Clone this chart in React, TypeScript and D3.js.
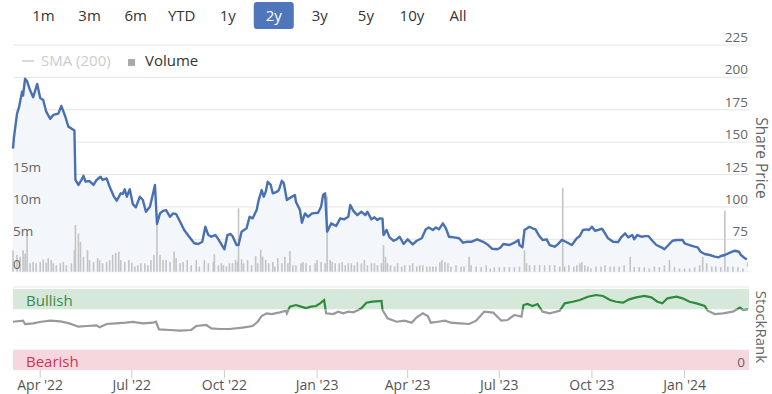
import React from 'react';
import * as d3 from 'd3';

const W = 772;
const H = 394;
const FONT = '"Open Sans", "Noto Sans", sans-serif';

const rangeButtons = ["1m", "3m", "6m", "YTD", "1y", "2y", "3y", "5y", "10y", "All"];
const selectedRange = "2y";
const priceTicks = [50, 75, 100, 125, 150, 175, 200, 225];
const volumeTicks = [0, 5, 10, 15];
const dateDomain = ["2022-03-05", "2024-03-05"];
const bullishRange = [75, 100];
const bearishRange = [0, 25];

const priceData: [string, number][] = [
  ["2022-03-05",145],["2022-03-06",154],["2022-03-09",172],["2022-03-11",177],["2022-03-14",189],["2022-03-15",186],["2022-03-17",199],["2022-03-19",197],["2022-03-22",190],["2022-03-25",184.6],["2022-03-29",195],["2022-04-01",184],["2022-04-04",182.5],["2022-04-07",173.5],["2022-04-11",168],["2022-04-14",171],["2022-04-19",172],["2022-04-22",178],["2022-04-26",169.6],["2022-04-29",162],["2022-05-02",160.6],["2022-05-05",159],["2022-05-06",120.8],["2022-05-09",117],["2022-05-12",120.8],["2022-05-14",124],["2022-05-16",119.5],["2022-05-20",120],["2022-05-24",117],["2022-05-27",120.8],["2022-05-31",123.3],["2022-06-02",120.8],["2022-06-06",122],["2022-06-09",115.6],["2022-06-13",108.4],["2022-06-16",104.8],["2022-06-20",110.5],["2022-06-22",110],["2022-06-24",113.6],["2022-06-26",107.9],["2022-06-29",113.6],["2022-07-02",102.2],["2022-07-05",99.7],["2022-07-09",107.9],["2022-07-12",105.3],["2022-07-15",96.3],["2022-07-19",100.2],["2022-07-24",117],["2022-07-26",86.8],["2022-07-29",95],["2022-08-01",97],["2022-08-04",97.6],["2022-08-08",92.4],["2022-08-11",95],["2022-08-14",94.5],["2022-08-18",88.6],["2022-08-22",82.2],["2022-08-27",77],["2022-09-01",72],["2022-09-05",71.4],["2022-09-09",73.1],["2022-09-12",84.7],["2022-09-15",78.3],["2022-09-18",77],["2022-09-22",78.3],["2022-09-25",75],["2022-10-01",67.3],["2022-10-04",78.3],["2022-10-07",79.1],["2022-10-09",77.5],["2022-10-13",70.6],["2022-10-15",70.6],["2022-10-18",80.9],["2022-10-23",83.5],["2022-10-26",92.4],["2022-10-29",91.2],["2022-11-02",97.6],["2022-11-04",105.3],["2022-11-07",113],["2022-11-09",107.9],["2022-11-11",111.7],["2022-11-13",119.4],["2022-11-16",117],["2022-11-18",110.5],["2022-11-22",111.7],["2022-11-24",113],["2022-11-27",120.2],["2022-11-29",118.2],["2022-12-02",105.3],["2022-12-06",107.4],["2022-12-10",109.2],["2022-12-11",104],["2022-12-15",97.6],["2022-12-17",87.8],["2022-12-20",95],["2022-12-23",92.4],["2022-12-27",95],["2023-01-02",95.5],["2023-01-05",100.2],["2023-01-07",109.2],["2023-01-09",110.5],["2023-01-11",80.9],["2023-01-15",87.3],["2023-01-20",85.3],["2023-01-24",91.2],["2023-01-28",90.4],["2023-02-01",92.4],["2023-02-03",101.5],["2023-02-06",97],["2023-02-10",93.7],["2023-02-14",96.3],["2023-02-18",93.7],["2023-02-20",96.3],["2023-02-24",90.4],["2023-02-27",92],["2023-03-02",89.9],["2023-03-04",91.2],["2023-03-07",91],["2023-03-08",78.3],["2023-03-11",82.2],["2023-03-14",76.5],["2023-03-18",73.9],["2023-03-21",75],["2023-03-24",77],["2023-03-28",71.4],["2023-04-01",75],["2023-04-06",71.1],["2023-04-10",73.9],["2023-04-15",75.8],["2023-04-19",82.7],["2023-04-22",84.2],["2023-04-26",82.2],["2023-04-29",84.2],["2023-05-02",82.7],["2023-05-06",87.3],["2023-05-09",83.5],["2023-05-12",77],["2023-05-17",76.5],["2023-05-22",75.8],["2023-05-26",72.4],["2023-05-30",73.1],["2023-06-03",73.1],["2023-06-09",75],["2023-06-15",73.1],["2023-06-20",70.6],["2023-06-24",67.7],["2023-06-29",67.3],["2023-07-02",68.5],["2023-07-05",71.4],["2023-07-11",70.6],["2023-07-16",72.4],["2023-07-20",74.5],["2023-07-21",70.6],["2023-07-24",68.8],["2023-07-26",82.2],["2023-07-31",84.7],["2023-08-03",83.5],["2023-08-06",82.7],["2023-08-09",78.3],["2023-08-13",74.5],["2023-08-17",75],["2023-08-20",70.6],["2023-08-25",69.3],["2023-08-28",71.1],["2023-09-01",74.5],["2023-09-05",73.1],["2023-09-11",70.6],["2023-09-16",75.8],["2023-09-19",77.5],["2023-09-22",82.2],["2023-09-26",82.7],["2023-09-28",82.2],["2023-10-01",84.7],["2023-10-04",81.6],["2023-10-07",82.2],["2023-10-11",83.2],["2023-10-14",79.6],["2023-10-17",75.8],["2023-10-22",73.1],["2023-10-27",72.9],["2023-10-30",76.5],["2023-11-03",79.6],["2023-11-06",76.5],["2023-11-10",78.3],["2023-11-12",75],["2023-11-15",78.3],["2023-11-19",77],["2023-11-23",77.5],["2023-11-26",77.5],["2023-11-30",73.9],["2023-12-04",70.6],["2023-12-09",68.8],["2023-12-12",67.3],["2023-12-16",70.6],["2023-12-20",73.9],["2023-12-24",74.5],["2023-12-30",74.5],["2024-01-01",71.9],["2024-01-06",70.6],["2024-01-11",69.3],["2024-01-14",68.8],["2024-01-17",65.4],["2024-01-21",63.7],["2024-01-26",62.9],["2024-01-31",61.6],["2024-02-04",61.1],["2024-02-06",62.1],["2024-02-10",62.9],["2024-02-15",64.7],["2024-02-20",66.2],["2024-02-24",65.4],["2024-02-26",62.9],["2024-03-01",60.3],["2024-03-03",59.6]
];

// volume in millions
const volumeData: [string, number][] = [
  ["2022-03-05",3.3],["2022-03-09",2.6],["2022-03-12",2.3],["2022-03-15",3.3],["2022-03-17",2.8],["2022-03-19",5.9],["2022-03-22",1.3],["2022-03-25",1.5],["2022-03-28",1.3],["2022-04-01",1.5],["2022-04-04",1.9],["2022-04-07",1.4],["2022-04-09",2.1],["2022-04-12",1.8],["2022-04-14",1.3],["2022-04-17",1.0],["2022-04-21",1.3],["2022-04-24",1.5],["2022-04-27",1.0],["2022-05-02",1.3],["2022-05-05",3.3],["2022-05-06",7.2],["2022-05-09",5.9],["2022-05-11",4.6],["2022-05-14",2.3],["2022-05-18",3.3],["2022-05-20",1.8],["2022-05-24",1.5],["2022-05-28",2.1],["2022-05-30",1.8],["2022-06-02",1.3],["2022-06-06",1.5],["2022-06-09",1.8],["2022-06-12",2.6],["2022-06-15",2.9],["2022-06-18",3.1],["2022-06-20",1.8],["2022-06-24",1.5],["2022-06-28",1.8],["2022-07-01",1.4],["2022-07-04",0.8],["2022-07-07",1.0],["2022-07-10",1.3],["2022-07-14",1.3],["2022-07-17",1.0],["2022-07-20",1.8],["2022-07-23",2.6],["2022-07-26",9.0],["2022-07-29",2.6],["2022-08-01",1.8],["2022-08-04",1.8],["2022-08-08",1.5],["2022-08-12",3.1],["2022-08-14",2.1],["2022-08-18",1.3],["2022-08-21",1.5],["2022-08-25",1.8],["2022-08-29",1.0],["2022-09-03",1.8],["2022-09-06",0.8],["2022-09-11",1.8],["2022-09-15",1.3],["2022-09-20",1.5],["2022-09-21",2.7],["2022-09-25",1.0],["2022-09-28",1.3],["2022-09-30",1.0],["2022-10-03",0.8],["2022-10-06",1.3],["2022-10-09",1.3],["2022-10-12",1.8],["2022-10-14",1.5],["2022-10-15",9.8],["2022-10-18",1.9],["2022-10-20",1.3],["2022-10-24",1.8],["2022-10-28",1.0],["2022-11-01",2.4],["2022-11-03",1.3],["2022-11-06",3.4],["2022-11-08",2.3],["2022-11-11",1.8],["2022-11-14",1.3],["2022-11-18",1.5],["2022-11-20",0.8],["2022-11-23",2.1],["2022-11-27",1.3],["2022-11-30",2.3],["2022-12-03",1.3],["2022-12-05",3.2],["2022-12-08",1.0],["2022-12-11",1.0],["2022-12-16",1.3],["2022-12-18",1.5],["2022-12-21",1.3],["2022-12-25",1.0],["2022-12-30",1.3],["2023-01-01",1.8],["2023-01-05",1.5],["2023-01-09",1.3],["2023-01-11",11.6],["2023-01-14",1.8],["2023-01-16",1.5],["2023-01-19",1.3],["2023-01-23",1.3],["2023-01-26",1.5],["2023-01-29",1.0],["2023-02-01",1.3],["2023-02-04",1.3],["2023-02-07",1.0],["2023-02-10",1.5],["2023-02-14",1.3],["2023-02-17",1.8],["2023-02-20",1.0],["2023-02-24",1.3],["2023-02-27",1.3],["2023-03-02",1.0],["2023-03-06",1.3],["2023-03-08",4.1],["2023-03-10",2.3],["2023-03-12",1.3],["2023-03-15",1.0],["2023-03-19",0.8],["2023-03-22",1.3],["2023-03-26",0.8],["2023-03-29",1.0],["2023-04-03",1.0],["2023-04-06",1.3],["2023-04-10",0.8],["2023-04-13",1.0],["2023-04-16",1.0],["2023-04-20",0.8],["2023-04-23",0.8],["2023-04-26",0.8],["2023-04-29",0.8],["2023-05-03",1.5],["2023-05-05",1.8],["2023-05-08",1.5],["2023-05-11",1.3],["2023-05-14",0.8],["2023-05-19",1.0],["2023-05-24",0.8],["2023-05-27",0.8],["2023-06-01",2.3],["2023-06-03",1.0],["2023-06-08",0.8],["2023-06-13",0.7],["2023-06-18",1.0],["2023-06-22",0.5],["2023-06-26",0.7],["2023-07-01",0.7],["2023-07-06",0.7],["2023-07-11",0.7],["2023-07-16",0.7],["2023-07-21",0.8],["2023-07-26",3.3],["2023-07-28",1.3],["2023-07-31",1.0],["2023-08-05",1.0],["2023-08-10",1.0],["2023-08-15",1.0],["2023-08-20",1.0],["2023-08-25",1.0],["2023-08-30",0.8],["2023-09-02",12.9],["2023-09-04",0.8],["2023-09-08",1.0],["2023-09-13",0.8],["2023-09-16",1.0],["2023-09-19",1.3],["2023-09-21",1.5],["2023-09-24",1.0],["2023-09-27",0.8],["2023-09-30",0.5],["2023-10-05",0.8],["2023-10-10",0.8],["2023-10-14",1.0],["2023-10-19",0.8],["2023-10-23",0.8],["2023-10-28",0.8],["2023-11-02",1.0],["2023-11-08",2.3],["2023-11-12",0.7],["2023-11-17",0.7],["2023-11-22",0.7],["2023-11-27",0.5],["2023-12-02",0.8],["2023-12-07",0.7],["2023-12-12",1.0],["2023-12-17",1.8],["2023-12-22",0.7],["2023-12-27",0.5],["2024-01-01",0.5],["2024-01-06",0.5],["2024-01-11",0.7],["2024-01-16",1.0],["2024-01-19",2.3],["2024-01-23",1.3],["2024-01-28",0.8],["2024-02-01",0.8],["2024-02-06",0.7],["2024-02-10",9.4],["2024-02-13",0.8],["2024-02-18",0.8],["2024-02-23",0.7],["2024-02-28",0.5]
];

const stockRankData: [string, number][] = [
  ["2022-03-05",59.6],["2022-03-15",60.9],["2022-03-17",56.8],["2022-03-25",57.6],["2022-04-02",59.6],["2022-04-11",60.9],["2022-04-21",60.1],["2022-04-30",57.6],["2022-05-09",53.5],["2022-05-17",54.3],["2022-05-27",55.1],["2022-05-30",52.7],["2022-06-06",56.8],["2022-06-15",57.6],["2022-06-25",58.4],["2022-07-02",59.3],["2022-07-12",57.6],["2022-07-22",58.4],["2022-07-25",59.6],["2022-07-28",50.2],["2022-08-08",49.4],["2022-08-18",48.6],["2022-08-29",49.4],["2022-09-03",54.3],["2022-09-13",55.6],["2022-09-18",51.4],["2022-09-26",50.6],["2022-10-06",50.6],["2022-10-19",52.3],["2022-10-29",54.3],["2022-11-03",59.6],["2022-11-07",66.7],["2022-11-12",70],["2022-11-17",69.1],["2022-11-25",71.2],["2022-12-01",73.2],["2022-12-02",70],["2022-12-05",78.2],["2022-12-11",80.2],["2022-12-16",78.2],["2022-12-21",76.5],["2022-12-26",78.2],["2022-12-31",79],["2023-01-04",82.3],["2023-01-08",86.4],["2023-01-10",70],["2023-01-17",69.1],["2023-01-22",72],["2023-01-27",70],["2023-02-01",72],["2023-02-06",71.2],["2023-02-11",74.1],["2023-02-14",76.2],["2023-02-19",83.1],["2023-02-25",84.3],["2023-03-06",85.2],["2023-03-07",74.1],["2023-03-12",63.8],["2023-03-21",59.6],["2023-03-29",60.9],["2023-04-05",58.4],["2023-04-10",65],["2023-04-16",70],["2023-04-21",66.7],["2023-04-24",58.4],["2023-05-01",59.6],["2023-05-08",60.9],["2023-05-14",58.4],["2023-05-23",57.6],["2023-06-01",56.8],["2023-06-08",60.9],["2023-06-16",72],["2023-06-25",70.8],["2023-07-03",60.9],["2023-07-09",61.7],["2023-07-16",67.9],["2023-07-23",65.8],["2023-07-25",80.2],["2023-07-29",81.5],["2023-08-03",79],["2023-08-08",81.5],["2023-08-13",72],["2023-08-20",70],["2023-08-30",73.2],["2023-09-04",82.3],["2023-09-12",84.3],["2023-09-19",86.4],["2023-09-27",90.5],["2023-10-05",92.6],["2023-10-12",91.4],["2023-10-19",86.4],["2023-10-25",84.3],["2023-11-01",83.1],["2023-11-07",87.2],["2023-11-14",89.7],["2023-11-22",91.4],["2023-11-29",89.7],["2023-12-05",84.3],["2023-12-10",82.3],["2023-12-15",88.5],["2023-12-24",90.5],["2023-12-30",88.5],["2024-01-06",84.3],["2024-01-13",82.3],["2024-01-21",79],["2024-01-24",73.2],["2024-01-31",69.1],["2024-02-08",70],["2024-02-18",72],["2024-02-25",77],["2024-02-28",74.1],["2024-03-04",74.9]
];

const parse = d3.timeParse("%Y-%m-%d");

export default function App() {
  const x = d3.scaleTime().domain(dateDomain.map((d) => parse(d) as Date)).range([13, 749]);
  const yP = d3.scaleLinear().domain([50, 225]).range([271.7, 45]);
  const yV = d3.scaleLinear().domain([0, 35]).range([271.7, 45]);
  const yR = d3.scaleLinear().domain([0, 100]).range([370, 289]);
  const btnX = d3.scalePoint<string>().domain(rangeButtons).range([43.5, 458]);

  const price = priceData.map(([d, v]) => ({ d: parse(d) as Date, v }));
  const vol = volumeData.map(([d, v]) => ({ d: parse(d) as Date, v }));
  const rank = stockRankData.map(([d, v]) => ({ d: parse(d) as Date, v }));

  const line = d3.line<{ d: Date; v: number }>().x((p) => x(p.d)).y((p) => yP(p.v));
  const area = d3.area<{ d: Date; v: number }>().x((p) => x(p.d)).y0(yP(50)).y1((p) => yP(p.v));
  const rankLine = d3.line<{ d: Date; v: number }>().x((p) => x(p.d)).y((p) => yR(p.v));

  const xTicks = x.ticks(d3.timeMonth.every(3) as d3.TimeInterval);
  const fmt = d3.timeFormat("%b '%y");
  const [x0, x1] = x.range();

  return (
    <svg width={W} height={H} style={{ position: 'absolute', left: 0, top: 0, fontFamily: FONT }}>
      <rect width={W} height={H} fill="#fff" />
      {/* range selector */}
      {rangeButtons.map((b) => {
        const cx = btnX(b) as number;
        const sel = b === selectedRange;
        return (
          <g key={b}>
            {sel && <rect x={cx - 20} y={2} width={40} height={27} rx={3} fill="#4f76ba" />}
            <text x={cx} y={21} textAnchor="middle" fontSize={15} fill={sel ? '#fff' : '#333'}>{b}</text>
          </g>
        );
      })}

      {/* price grid */}
      {priceTicks.map((t) => (
        <g key={t}>
          <line x1={x0} x2={x1} y1={yP(t)} y2={yP(t)} stroke="#e6e6e6" strokeWidth={1} />
          <text x={748} y={yP(t) - 3} textAnchor="end" fontSize={13.5} fill="#666">{t}</text>
        </g>
      ))}

      {/* area */}
      <path d={area(price) as string} fill="#f3f6fb" />

      {/* volume */}
      {vol.map((p, i) => (
        <rect key={i} x={x(p.d) - 0.8} width={1.6} y={yV(p.v)} height={yV(0) - yV(p.v)} fill="#c4c4c4" />
      ))}

      {/* volume labels */}
      {volumeTicks.map((t) => (
        <text key={t} x={13} y={yV(t) - 3} fontSize={13.5} fill="#666">{t === 0 ? '0' : `${t}m`}</text>
      ))}

      {/* price line */}
      <path d={line(price) as string} fill="none" stroke="#4a70b4" strokeWidth={2.4} strokeLinejoin="round" />

      {/* legend */}
      <line x1={22} x2={34} y1={61} y2={61} stroke="#ccc" strokeWidth={1.5} />
      <text x={41} y={66} fontSize={15} fill="#ccc">SMA (200)</text>
      <rect x={128} y={59} width={7} height={7} fill="#aaa" />
      <text x={145} y={66} fontSize={15} fill="#333">Volume</text>

      <text transform="translate(762,158) rotate(90)" textAnchor="middle" dominantBaseline="central" fontSize={15.5} fill="#666">Share Price</text>

      {/* stockrank panel */}
      <line x1={x0} x2={x1} y1={287} y2={287} stroke="#e6e6e6" />
      <rect x={x0} width={x1 - x0} y={yR(bullishRange[1])} height={yR(bullishRange[0]) - yR(bullishRange[1])} fill="#d5e8da" />
      <rect x={x0} width={x1 - x0} y={yR(bearishRange[1])} height={yR(bearishRange[0]) - yR(bearishRange[1])} fill="#f6d7dd" />
      <text x={26} y={306} fontSize={15} fill="#3b8a4b">Bullish</text>
      <text x={26} y={367} fontSize={15} fill="#c9365c">Bearish</text>
      <text x={745} y={367} textAnchor="end" fontSize={13.5} fill="#666">0</text>

      <defs>
        <clipPath id="bullClip">
          <rect x={0} y={0} width={W} height={yR(75)} />
        </clipPath>
        <clipPath id="grayClip">
          <rect x={0} y={yR(75)} width={W} height={H} />
        </clipPath>
      </defs>
      <path d={rankLine(rank) as string} fill="none" stroke="#999" strokeWidth={2.2} clipPath="url(#grayClip)" />
      <path d={rankLine(rank) as string} fill="none" stroke="#2e8b3e" strokeWidth={2.2} clipPath="url(#bullClip)" />

      <text transform="translate(762,327) rotate(90)" textAnchor="middle" dominantBaseline="central" fontSize={15} fill="#666">StockRank</text>

      {/* x axis */}
      {xTicks.map((t, i) => (
        <g key={i}>
          <line x1={x(t)} x2={x(t)} y1={370} y2={378} stroke="#ccc" />
          <text x={x(t)} y={390} textAnchor="middle" fontSize={14} fill="#555">{fmt(t)}</text>
        </g>
      ))}
    </svg>
  );
}
